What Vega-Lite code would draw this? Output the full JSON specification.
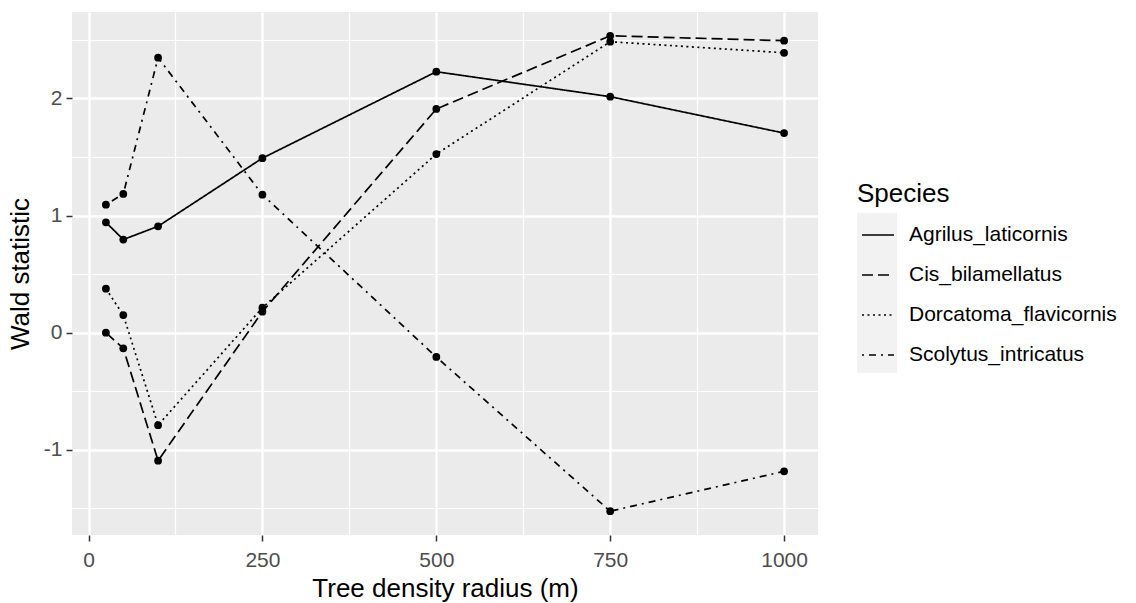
{
  "$schema": "https://vega.github.io/schema/vega-lite/v6.json",
  "width": 746,
  "height": 523,
  "autosize": {"type": "none"},
  "padding": {"left": 72, "top": 12, "right": 318, "bottom": 68},
  "background": "white",
  "config": {
    "font": "Liberation Sans",
    "view": {"fill": "#EBEBEB", "stroke": null},
    "axis": {
      "domain": false,
      "tickColor": "#333333",
      "tickWidth": 1.5,
      "tickSize": 6,
      "gridColor": "white",
      "labelColor": "#4D4D4D",
      "labelFontSize": 21,
      "labelFont": "Liberation Sans",
      "titleFont": "Liberation Sans",
      "titleFontSize": 26,
      "titleFontWeight": "normal",
      "titleColor": "black",
      "labelOverlap": false,
      "labelFlush": false
    },
    "legend": {
      "labelFont": "Liberation Sans",
      "titleFont": "Liberation Sans"
    }
  },
  "data": {
    "values": [
      {"radius": 25, "wald": 0.942, "species": "Agrilus_laticornis"},
      {"radius": 50, "wald": 0.795, "species": "Agrilus_laticornis"},
      {"radius": 100, "wald": 0.908, "species": "Agrilus_laticornis"},
      {"radius": 250, "wald": 1.49, "species": "Agrilus_laticornis"},
      {"radius": 500, "wald": 2.228, "species": "Agrilus_laticornis"},
      {"radius": 750, "wald": 2.015, "species": "Agrilus_laticornis"},
      {"radius": 1000, "wald": 1.704, "species": "Agrilus_laticornis"},
      {"radius": 25, "wald": 0.0, "species": "Cis_bilamellatus"},
      {"radius": 50, "wald": -0.134, "species": "Cis_bilamellatus"},
      {"radius": 100, "wald": -1.093, "species": "Cis_bilamellatus"},
      {"radius": 250, "wald": 0.179, "species": "Cis_bilamellatus"},
      {"radius": 500, "wald": 1.91, "species": "Cis_bilamellatus"},
      {"radius": 750, "wald": 2.535, "species": "Cis_bilamellatus"},
      {"radius": 1000, "wald": 2.493, "species": "Cis_bilamellatus"},
      {"radius": 25, "wald": 0.375, "species": "Dorcatoma_flavicornis"},
      {"radius": 50, "wald": 0.15, "species": "Dorcatoma_flavicornis"},
      {"radius": 100, "wald": -0.79, "species": "Dorcatoma_flavicornis"},
      {"radius": 250, "wald": 0.213, "species": "Dorcatoma_flavicornis"},
      {"radius": 500, "wald": 1.525, "species": "Dorcatoma_flavicornis"},
      {"radius": 750, "wald": 2.484, "species": "Dorcatoma_flavicornis"},
      {"radius": 1000, "wald": 2.39, "species": "Dorcatoma_flavicornis"},
      {"radius": 25, "wald": 1.093, "species": "Scolytus_intricatus"},
      {"radius": 50, "wald": 1.184, "species": "Scolytus_intricatus"},
      {"radius": 100, "wald": 2.348, "species": "Scolytus_intricatus"},
      {"radius": 250, "wald": 1.178, "species": "Scolytus_intricatus"},
      {"radius": 500, "wald": -0.208, "species": "Scolytus_intricatus"},
      {"radius": 750, "wald": -1.525, "species": "Scolytus_intricatus"},
      {"radius": 1000, "wald": -1.184, "species": "Scolytus_intricatus"}
    ]
  },
  "encoding": {
    "x": {
      "field": "radius",
      "type": "quantitative",
      "scale": {"domain": [-23.75, 1048.75], "nice": false, "zero": false},
      "axis": {
        "title": "Tree density radius (m)",
        "values": [0, 125, 250, 375, 500, 625, 750, 875, 1000],
        "labelExpr": "datum.value % 250 === 0 ? toString(datum.value) : ''",
        "tickOpacity": {"condition": {"test": "datum.value % 250 !== 0", "value": 0}, "value": 1},
        "gridWidth": {"condition": {"test": "datum.value % 250 !== 0", "value": 1.2}, "value": 2.4},
        "labelPadding": 8,
        "titlePadding": 5
      }
    },
    "y": {
      "field": "wald",
      "type": "quantitative",
      "scale": {"domain": [-1.728, 2.738], "nice": false, "zero": false},
      "axis": {
        "title": "Wald statistic",
        "values": [-1.5, -1, -0.5, 0, 0.5, 1, 1.5, 2, 2.5],
        "labelExpr": "datum.value % 1 === 0 ? toString(datum.value) : ''",
        "tickOpacity": {"condition": {"test": "datum.value % 1 !== 0", "value": 0}, "value": 1},
        "gridWidth": {"condition": {"test": "datum.value % 1 !== 0", "value": 1.2}, "value": 2.4},
        "labelPadding": 4,
        "titlePadding": 10
      }
    }
  },
  "layer": [
    {
      "mark": {"type": "point", "filled": true, "size": 0, "strokeWidth": 0},
      "encoding": {
        "fill": {
          "field": "species",
          "type": "nominal",
          "scale": {
            "domain": ["Agrilus_laticornis", "Cis_bilamellatus", "Dorcatoma_flavicornis", "Scolytus_intricatus"],
            "range": ["#F2F2F2", "#F2F2F2", "#F2F2F2", "#F2F2F2"]
          },
          "legend": {
            "title": "Species",
            "orient": "none",
            "legendX": 785,
            "legendY": 169,
            "padding": 0,
            "symbolType": "square",
            "symbolSize": 1600,
            "symbolStrokeWidth": 0,
            "symbolOpacity": 1,
            "labelExpr": "''",
            "rowPadding": 0,
            "titleFontSize": 26,
            "titleFontWeight": "normal",
            "titleColor": "black",
            "titlePadding": 6
          }
        }
      }
    },
    {
      "mark": {"type": "line", "color": "black", "strokeWidth": 1.7},
      "encoding": {
        "strokeDash": {
          "field": "species",
          "type": "nominal",
          "scale": {"range": [[1, 0], [11, 5], [2, 3.5], [2, 5, 7, 5]]},
          "legend": {
            "title": null,
            "orient": "none",
            "legendX": 789,
            "legendY": 206,
            "padding": 0,
            "symbolType": "stroke",
            "symbolSize": 1024,
            "symbolStrokeWidth": 1.7,
            "symbolStrokeColor": "black",
            "labelFontSize": 21,
            "labelColor": "black",
            "labelOffset": 14,
            "labelLimit": 400,
            "rowPadding": 13
          }
        }
      }
    },
    {
      "mark": {"type": "point", "filled": true, "color": "black", "size": 60, "opacity": 1},
      "encoding": {"detail": {"field": "species", "type": "nominal"}}
    }
  ]
}
